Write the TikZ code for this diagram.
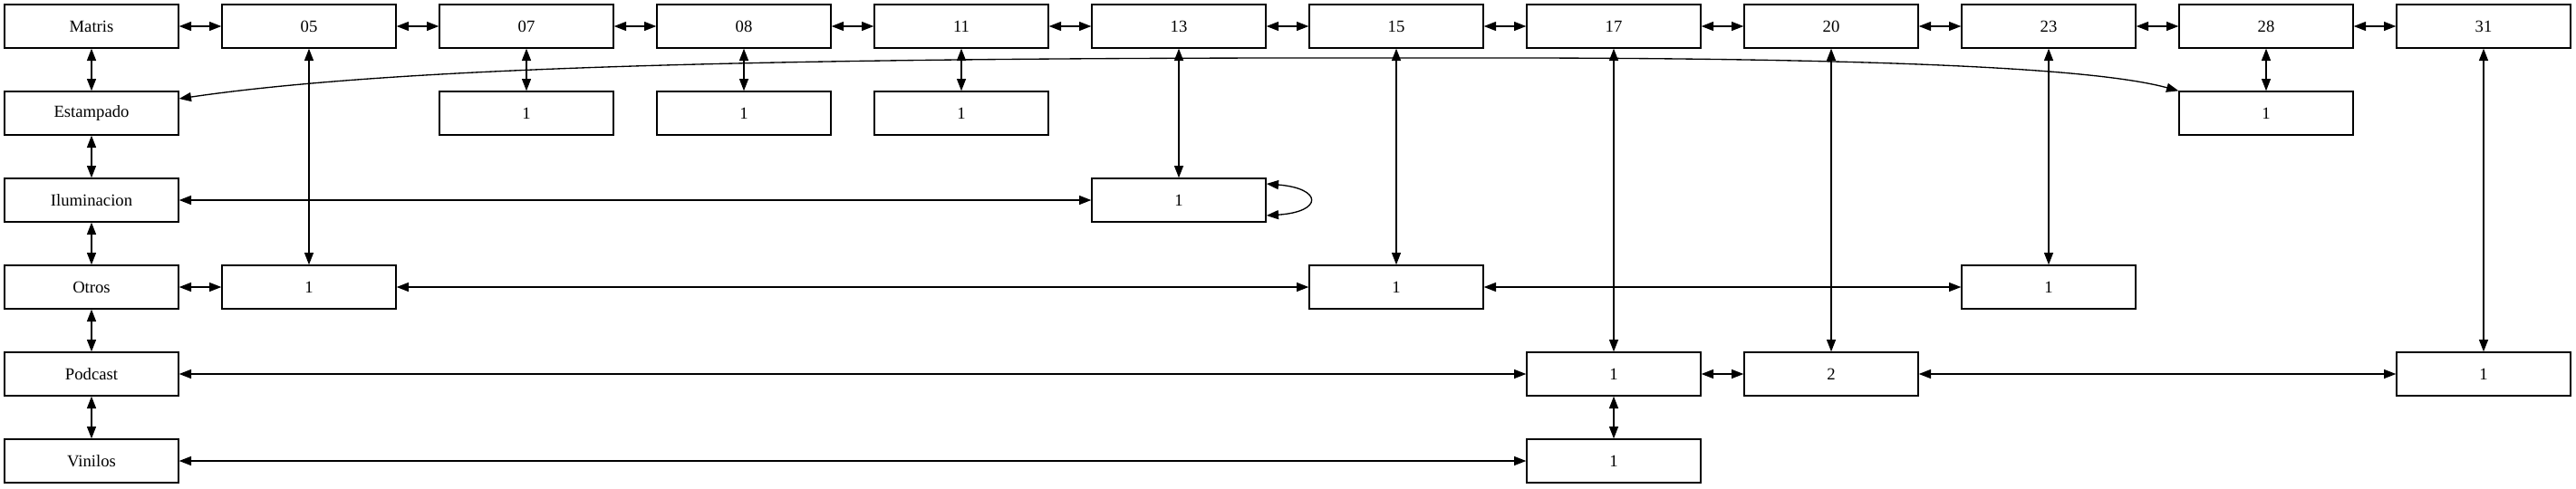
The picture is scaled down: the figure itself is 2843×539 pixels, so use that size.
\documentclass[tikz,border=0pt]{standalone}
\usepackage{fontspec}
\setmainfont{Liberation Serif}
\usetikzlibrary{arrows.meta,positioning}

\begin{document}
\begin{tikzpicture}[x=0.75pt, y=-0.75pt, line width=1pt,
  every node/.style={draw, rectangle, minimum width=144pt, minimum height=36pt, inner sep=0pt, font=\fontsize{14}{16}\selectfont},
  link/.style={{Triangle[length=10pt,width=7.5pt]}-{Triangle[length=10pt,width=7.5pt]}}]
\useasboundingbox (0,0) rectangle (2843,539);
% header row and first column
\foreach \lab [count=\i from 0] in {Matris,05,07,08,11,13,15,17,20,23,28,31}
  \node (h\i) at (101+240*\i, 29) {\lab};
\foreach \lab [count=\j from 1] in {Estampado,Iluminacion,Otros,Podcast,Vinilos}
  \node (r\j) at (101, 29+96*\j) {\lab};
% entries
\foreach \i/\j/\v in {2/1/1, 3/1/1, 4/1/1, 10/1/1, 5/2/1, 1/3/1, 6/3/1, 9/3/1, 7/4/1, 8/4/2, 11/4/1, 7/5/1}
  \node (e\i-\j) at (101+240*\i, 29+96*\j) {\v};

% header links
\foreach \i [evaluate=\i as \k using int(\i+1)] in {0,...,10}
  \draw[link] (h\i) -- (h\k);
\draw[link] (h0) -- (r1);
\foreach \j [evaluate=\j as \k using int(\j+1)] in {1,...,4}
  \draw[link] (r\j) -- (r\k);

% columns
\foreach \i/\j in {1/3, 2/1, 3/1, 4/1, 5/2, 6/3, 7/4, 8/4, 9/3, 10/1, 11/4}
  \draw[link] (h\i) -- (e\i-\j);
\draw[link] (e7-4) -- (e7-5);

% rows
\draw[link] ([yshift=12pt]r1.east) .. controls (450,72) and (900,63) .. (1600,64)
  .. controls (2150,63) and (2330,80) .. (e10-1.north west);
\draw[link] (r2) -- (e5-2);
\draw[link] ([yshift=13.5pt]e5-2.east) .. controls (1460,208) and (1460,234) .. ([yshift=-12.75pt]e5-2.east);
\draw[link] (r3) -- (e1-3);
\draw[link] (e1-3) -- (e6-3);
\draw[link] (e6-3) -- (e9-3);
\draw[link] (r4) -- (e7-4);
\draw[link] (e7-4) -- (e8-4);
\draw[link] (e8-4) -- (e11-4);
\draw[link] (r5) -- (e7-5);
\end{tikzpicture}
\end{document}
